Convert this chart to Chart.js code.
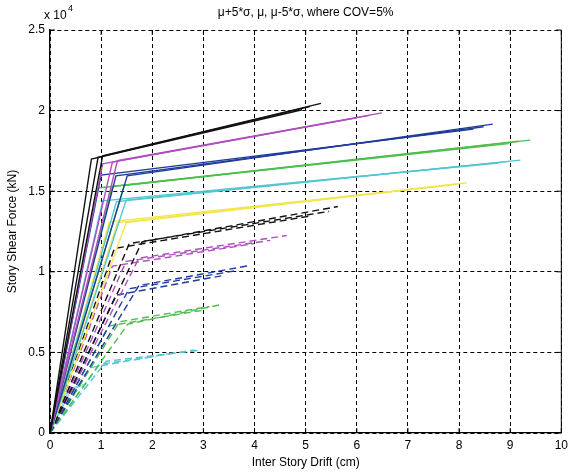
<!DOCTYPE html>
<html>
<head>
<meta charset="utf-8">
<script src="https://cdn.jsdelivr.net/npm/chart.js@4.4.0/dist/chart.umd.min.js"></script>
<style>
  body { margin: 0; background: #fff; }
  #wrap { width: 573px; height: 475px; }
</style>
</head>
<body>
<div id="wrap"><canvas id="chart" width="573" height="475"></canvas></div>
<script>
// drift (cm) and shear (x 10^4 kN) for each story, three curves: mu+5s, mu, mu-5s
const yieldDrift = [
  [0.81, 0.94, 1.03],
  [1.03, 1.22, 1.32],
  [1.00, 1.29, 1.51],
  [0.94, 1.22, 1.45],
  [1.03, 1.30, 1.49],
  [1.16, 1.32, 1.49],
  [1.26, 1.55, 1.80],
  [1.22, 1.49, 1.74],
  [1.29, 1.55, 1.74],
  [1.16, 1.36, 1.52],
  [0.78, 0.97, 1.10],
  [0.28, 0.36, 0.43]
];
const yieldForce = [
  [1.70, 1.71, 1.72],
  [1.67, 1.68, 1.69],
  [1.60, 1.595, 1.595],
  [1.52, 1.53, 1.535],
  [1.44, 1.435, 1.445],
  [1.31, 1.305, 1.305],
  [1.145, 1.175, 1.185],
  [1.035, 1.065, 1.085],
  [0.855, 0.895, 0.915],
  [0.665, 0.69, 0.675],
  [0.405, 0.425, 0.445],
  [0.24, 0.26, 0.28]
];
const endDrift = [
  [4.93, 5.08, 5.30],
  [6.00, 6.25, 6.49],
  [8.28, 8.48, 8.66],
  [8.97, 9.17, 9.39],
  [8.78, 8.98, 9.20],
  [7.77, 7.97, 8.15],
  [5.07, 5.46, 5.63],
  [3.99, 4.31, 4.63],
  [3.35, 3.60, 3.92],
  [2.96, 3.12, 3.32],
  [2.38, 2.83, 2.96],
  [0.52, 0.60, 0.66]
];
const endForce = [
  [2.005, 2.025, 2.045],
  [1.955, 1.97, 1.986],
  [1.885, 1.90, 1.916],
  [1.795, 1.81, 1.817],
  [1.675, 1.685, 1.693],
  [1.535, 1.545, 1.552],
  [1.345, 1.375, 1.405],
  [1.175, 1.195, 1.225],
  [0.975, 1.005, 1.04],
  [0.76, 0.785, 0.795],
  [0.495, 0.515, 0.515],
  [0.27, 0.29, 0.30]
];
const xTicks = [0, 1, 2, 3, 4, 5, 6, 7, 8, 9, 10];
const yTicks = [0, 0.5, 1, 1.5, 2, 2.5];

// line styles per story (matlab colour order, solid then dashed)
const lineColors = ['#111111', '#b04ec0', '#1f3c9c', '#4cbf4c', '#52c6d2', '#f3e64c',
                    '#111111', '#b04ec0', '#1f3c9c', '#4cbf4c', '#52c6d2', '#6cc8d8'];
const lineDashes = [[], [], [], [], [], [], [7, 4], [7, 4], [7, 4], [7, 4], [7, 4], []];

const datasets = [];
yieldDrift.forEach(function (row, s) {
  row.forEach(function (yd, k) {
    datasets.push({
      data: [
        {x: 0, y: 0},
        {x: yd, y: yieldForce[s][k]},
        {x: endDrift[s][k], y: endForce[s][k]}
      ],
      showLine: true,
      borderColor: lineColors[s],
      borderDash: lineDashes[s],
      borderWidth: s === 11 ? 1 : 1.4,
      pointRadius: 0,
      tension: 0,
      fill: false
    });
  });
});

const fontName = '"Liberation Sans", Arial, sans-serif';

// title, exponent, right border and inward ticks
const extras = {
  id: 'extras',
  afterDraw(chart) {
    const ctx = chart.ctx;
    const a = chart.chartArea;
    const sx = chart.scales.x;
    const sy = chart.scales.y;
    ctx.save();
    ctx.strokeStyle = '#000';
    ctx.lineWidth = 1;
    ctx.beginPath();
    ctx.moveTo(a.right, a.top);
    ctx.lineTo(a.right, a.bottom);
    xTicks.forEach(function (t) {
      const px = sx.getPixelForValue(t);
      ctx.moveTo(px, a.bottom);
      ctx.lineTo(px, a.bottom - 5);
      ctx.moveTo(px, a.top);
      ctx.lineTo(px, a.top + 5);
    });
    yTicks.forEach(function (t) {
      const py = sy.getPixelForValue(t);
      ctx.moveTo(a.left, py);
      ctx.lineTo(a.left + 5, py);
      ctx.moveTo(a.right, py);
      ctx.lineTo(a.right - 5, py);
    });
    ctx.stroke();

    ctx.fillStyle = '#000';
    ctx.textBaseline = 'middle';
    ctx.textAlign = 'center';
    ctx.font = '12px ' + fontName;
    ctx.fillText('\u03bc+5*\u03c3, \u03bc, \u03bc-5*\u03c3, where COV=5%', (a.left + a.right) / 2, 13);

    ctx.textAlign = 'left';
    ctx.font = '12px ' + fontName;
    ctx.fillText('x 10', a.left - 6, 16);
    ctx.font = '9px ' + fontName;
    ctx.fillText('4', a.left + 18, 9);
    ctx.restore();
  }
};

new Chart(document.getElementById('chart'), {
  type: 'scatter',
  data: {datasets: datasets},
  options: {
    responsive: false,
    animation: false,
    layout: {padding: {top: 30, right: 4, left: 0, bottom: 0}},
    plugins: {
      legend: {display: false},
      tooltip: {enabled: false}
    },
    scales: {
      x: {
        type: 'linear',
        min: 0,
        max: 10,
        afterFit: function (scale) { scale.height = 42; },
        afterBuildTicks: function (scale) { scale.ticks = xTicks.map(v => ({value: v})); },
        ticks: {color: '#000', font: {family: fontName, size: 12}, padding: 5, maxRotation: 0,
                callback: v => String(v)},
        grid: {color: '#000', lineWidth: 1, drawTicks: false},
        border: {color: '#000', width: 1.3, dash: [4, 3]},
        title: {
          display: true,
          text: 'Inter Story Drift (cm)',
          color: '#000',
          font: {family: fontName, size: 12},
          padding: {top: 0, bottom: 5}
        }
      },
      y: {
        type: 'linear',
        min: 0,
        max: 2.5,
        afterFit: function (scale) { scale.width = 50; },
        afterBuildTicks: function (scale) { scale.ticks = yTicks.map(v => ({value: v})); },
        ticks: {color: '#000', font: {family: fontName, size: 12}, padding: 5,
                callback: v => String(v)},
        grid: {color: '#000', lineWidth: 1, drawTicks: false},
        border: {color: '#000', width: 1.3, dash: [4, 3]},
        title: {
          display: true,
          text: 'Story Shear Force (kN)',
          color: '#000',
          font: {family: fontName, size: 12},
          padding: {top: 5, bottom: 0}
        }
      }
    }
  },
  plugins: [extras]
});
</script>
</body>
</html>
